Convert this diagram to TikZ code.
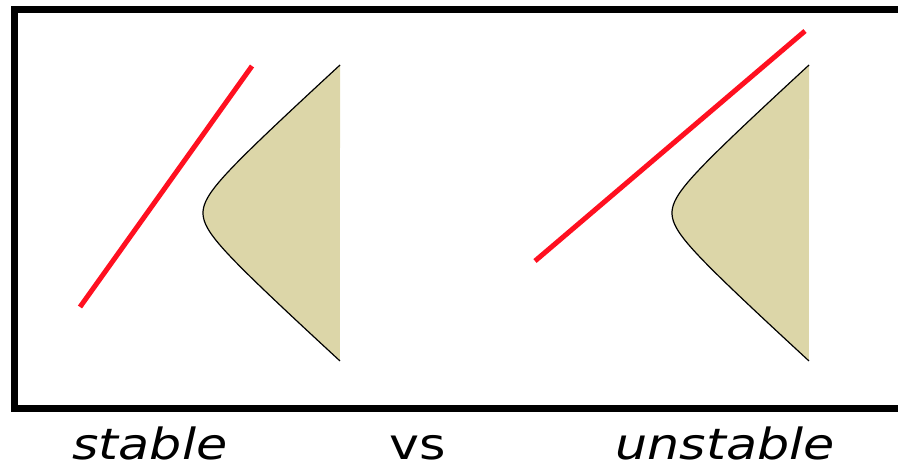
\documentclass[tikz,border=0pt]{standalone}
\usepackage{fontspec}
\setmainfont{DejaVu Sans}
\definecolor{sand}{RGB}{220,214,168}
\definecolor{redline}{RGB}{255,16,32}
\begin{document}
\begin{tikzpicture}[x=1pt,y=-1pt,
  frame/.style={line width=7pt},
  redstroke/.style={draw=redline,line width=5pt},
  edge/.style={line width=1.2pt},
  label/.style={font=\fontsize{43}{43}\selectfont\itshape,anchor=base,xscale=1.18,inner sep=0pt},
  labelup/.style={font=\fontsize{43}{43}\selectfont,anchor=base,xscale=1.18,inner sep=0pt}]
\useasboundingbox (0,0) rectangle (898,468);
\begin{scope}
\clip (0,0) rectangle (898,468);
% frame
\draw[frame] (14.5,9.5) rectangle (920,408.5);
\end{scope}
% left hyperbola
\fill[sand] plot[domain=-1.48:1.48,samples=90,variable=\u] ({174.8+10*sqrt(7.95+121*\u*\u)},{213+100*\u}) -- cycle;
\draw[edge] plot[domain=-1.48:1.48,samples=90,variable=\u] ({174.8+10*sqrt(7.95+121*\u*\u)},{213+100*\u});
% right hyperbola
\fill[sand] plot[domain=-1.48:1.48,samples=90,variable=\u] ({643.8+10*sqrt(7.95+121*\u*\u)},{213+100*\u}) -- cycle;
\draw[edge] plot[domain=-1.48:1.48,samples=90,variable=\u] ({643.8+10*sqrt(7.95+121*\u*\u)},{213+100*\u});
% red lines
\coordinate (l1) at (80,307);
\coordinate (l2) at (252,66);
\coordinate (r1) at (535,261);
\coordinate (r2) at (805,31);
\draw[redstroke] (l1) -- (l2);
\draw[redstroke] (r1) -- (r2);
% labels
\node[label] (stable) at (150,459) {stable};
\node[labelup] (vs) at (418,459) {vs};
\node[label] (unstable) at (725,459) {unstable};
\end{tikzpicture}
\end{document}
